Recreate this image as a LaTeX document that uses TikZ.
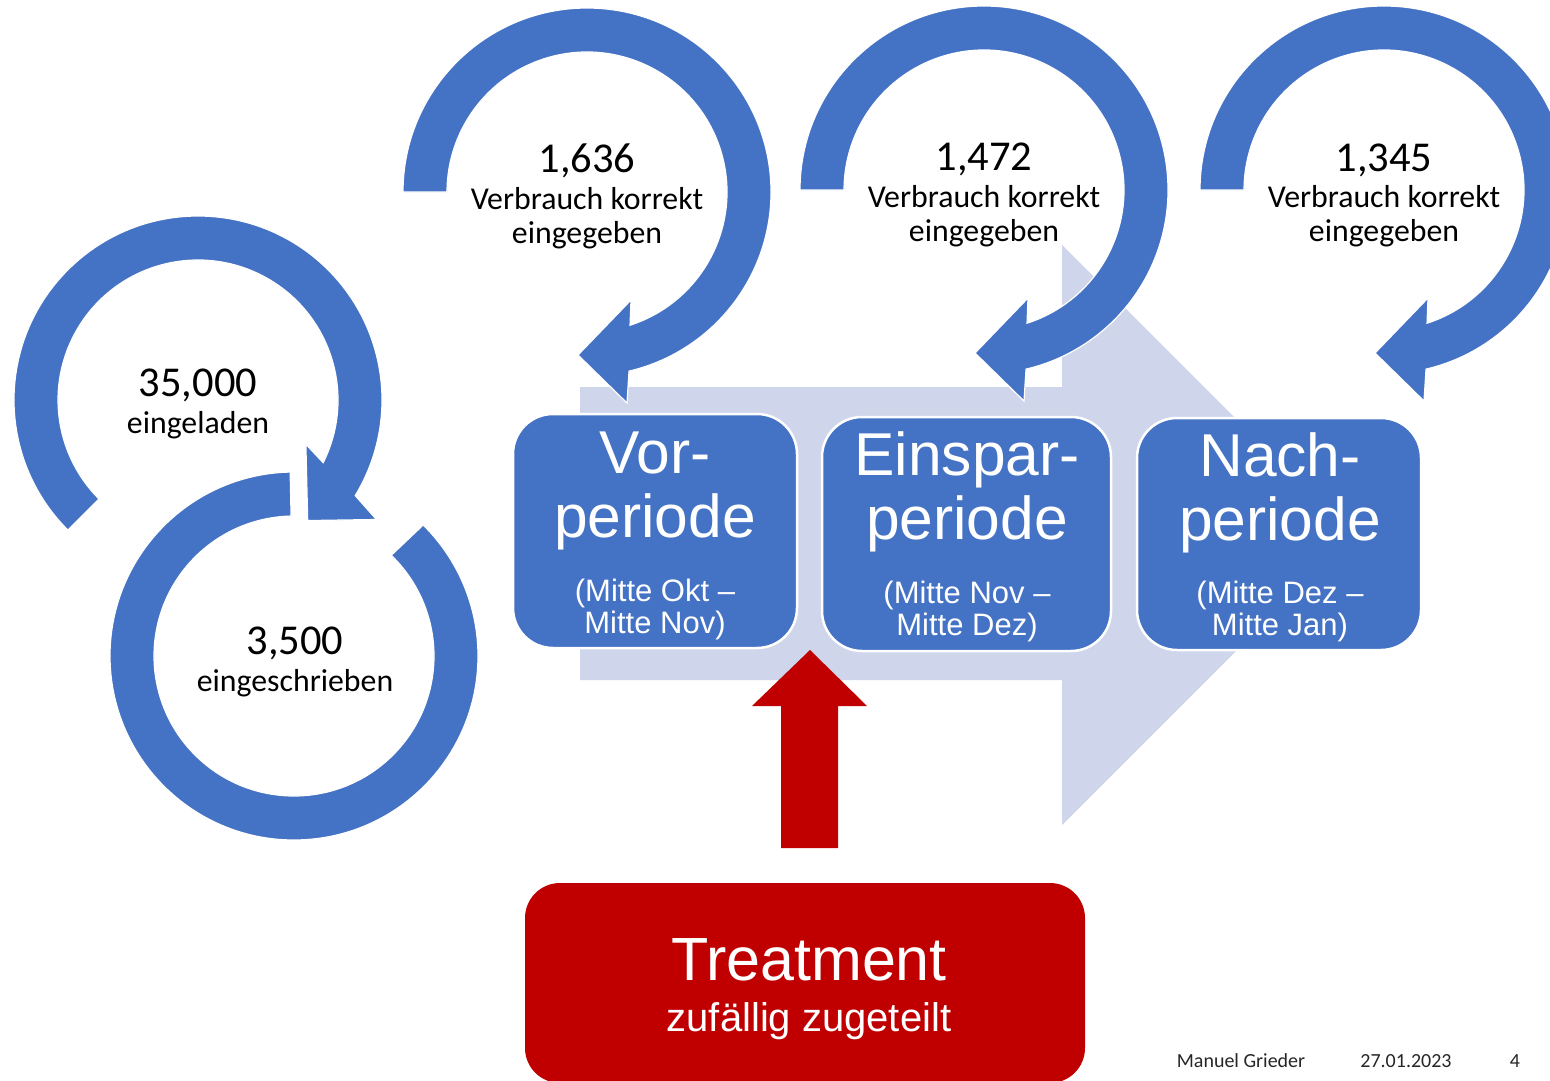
\documentclass[tikz,border=0pt]{standalone}
\usepackage{fontspec}
\setmainfont{Carlito}
\newfontfamily\arialf{Liberation Sans}
\usetikzlibrary{calc}
\definecolor{ringblue}{HTML}{4472C4}
\definecolor{lav}{HTML}{CFD5EA}
\definecolor{tred}{HTML}{C00000}
\begin{document}
\begin{tikzpicture}[x=1pt,y=-1pt,
  ring/.style={fill=ringblue,draw=white,line width=1.2pt},
  pbox/.style={fill=ringblue,draw=white,line width=2.5pt,rounded corners=40pt,inner sep=0pt},
  bigtxt/.style={font=\arialf\fontsize{60.5}{60}\selectfont,text=white,anchor=base,inner sep=0pt},
  subtxt/.style={font=\arialf\fontsize{31}{31}\selectfont,text=white,anchor=base,inner sep=0pt},
  numtxt/.style={font=\fontsize{42.5}{42}\selectfont,text=black,anchor=base,inner sep=0pt},
  labtxt/.style={font=\fontsize{31.8}{31}\selectfont,text=black,anchor=base,inner sep=0pt},
  foot/.style={font=\fontsize{20}{20}\selectfont,text=black!85,anchor=base,inner sep=0pt}]
\path[use as bounding box] (0,0) rectangle (1550,1081);
\clip (0,0) rectangle (1550,1081);
\fill[white] (0,0) rectangle (1550,1081);

% big background arrow
\fill[lav] (580,387) -- (1062,387) -- (1062,245) -- (1352,535) -- (1062,825) -- (1062,680) -- (580,680) -- cycle;

% ring A (35,000)
\begin{scope}[shift={(198,400)}]
\path[ring] (135:184) arc[start angle=135,end angle=391.3,radius=184] -- (33.8:214.8) -- (47.7:163) -- (22.3:116.6) -- (26.6:140) arc[start angle=386.6,end angle=135,radius=140] -- cycle;
\end{scope}
% ring B (3,500)
\begin{scope}[shift={(294,656)}]
\path[ring] (268.8:184) arc[start angle=268.8,end angle=-45.4,radius=184] -- (-46:140) arc[start angle=-46,end angle=268.8,radius=140] -- cycle;
\end{scope}
% top rings
\foreach \cx/\cy in {587/192, 984/190, 1384/190}{
\begin{scope}[shift={(\cx,\cy)}]
\path[ring] (180:184) arc[start angle=180,end angle=436.8,radius=184] -- (40,211) -- (-9,163) -- (44,108) -- (72.1:140) arc[start angle=432.1,end angle=180,radius=140] -- cycle;
\end{scope}
}

% ring texts
\node[numtxt] (n1) at (198,396) {35,000};
\node[labtxt] (l1) at (198,433) {eingeladen};
\node[numtxt] (n2) at (295,654) {3,500};
\node[labtxt] (l2) at (295,691) {eingeschrieben};
\node[numtxt] (n3) at (587,172) {1,636};
\node[labtxt] (l3a) at (587,209) {Verbrauch korrekt};
\node[labtxt] (l3b) at (587,243) {eingegeben};
\node[numtxt] (n4) at (984,170) {1,472};
\node[labtxt] (l4a) at (984,207) {Verbrauch korrekt};
\node[labtxt] (l4b) at (984,241) {eingegeben};
\node[numtxt] (n5) at (1384,171) {1,345};
\node[labtxt] (l5a) at (1384,207) {Verbrauch korrekt};
\node[labtxt] (l5b) at (1384,241) {eingegeben};

% period boxes
\node[pbox,minimum width=284pt,minimum height=234pt] (vor) at (655,531) {};
\node[pbox,minimum width=289pt,minimum height=234pt] (ein) at (966.5,534) {};
\node[pbox,minimum width=284pt,minimum height=232pt] (nach) at (1279,534) {};

\node[bigtxt] (vor1) at (655,473) {Vor-};
\node[bigtxt] (vor2) at (655,537) {periode};
\node[subtxt] (vor3) at (655,601) {(Mitte Okt –};
\node[subtxt] (vor4) at (655,633) {Mitte Nov)};
\node[bigtxt] (ein1) at (967,475) {Einspar-};
\node[bigtxt] (ein2) at (967,539) {periode};
\node[subtxt] (ein3) at (967,603) {(Mitte Nov –};
\node[subtxt] (ein4) at (967,635) {Mitte Dez)};
\node[bigtxt] (nach1) at (1280,476) {Nach-};
\node[bigtxt] (nach2) at (1280,540) {periode};
\node[subtxt] (nach3) at (1280,603) {(Mitte Dez –};
\node[subtxt] (nach4) at (1280,635) {Mitte Jan)};

% red arrow
\fill[tred] (781,848) -- (781,706) -- (752,706) -- (810,650) -- (867,706) -- (838,706) -- (838,848) -- cycle;

% treatment box
\node[fill=tred,rounded corners=35pt,minimum width=560pt,minimum height=200pt,inner sep=0pt] (treat) at (805,983) {};
\node[font=\arialf\fontsize{61}{60}\selectfont,text=white,anchor=base,inner sep=0pt] (t1) at (809,980) {Treatment};
\node[font=\arialf\fontsize{40}{40}\selectfont,text=white,anchor=base,inner sep=0pt] (t2) at (809,1031) {zufällig zugeteilt};

% footer
\node[foot] (f1) at (1241,1067) {Manuel Grieder};
\node[foot] (f2) at (1406,1067) {27.01.2023};
\node[foot] (f3) at (1515,1067) {4};
\end{tikzpicture}
\end{document}
